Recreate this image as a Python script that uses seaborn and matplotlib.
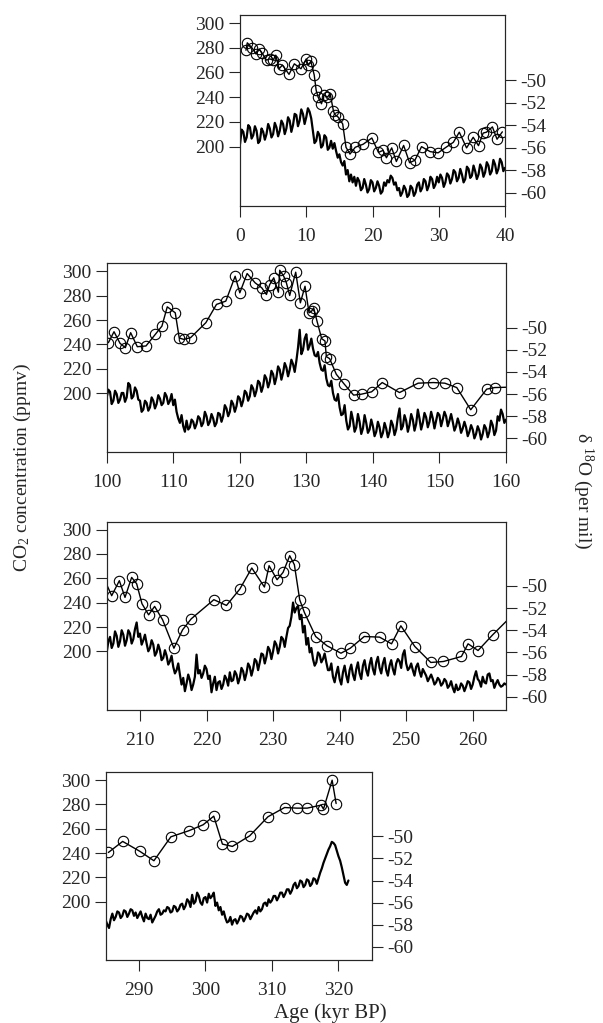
# CO2 and d18O records, four age windows
import numpy as np
import matplotlib
matplotlib.use('Agg')
import matplotlib.pyplot as plt
import seaborn as sns

######################## Data ########################

# CO2 (ppmv), circles
co2_age_1 = [0.9, 1.1, 1.8, 2.4, 2.9, 3.3, 4.0, 4.5, 5.0, 5.4, 5.9, 6.4, 7.4, 8.2, 9.2, 10.0, 10.3,
             10.7, 11.2, 11.5, 11.8, 12.3, 12.7, 13.2, 13.6, 14.1, 14.3, 14.8, 15.5, 16.0, 16.6,
             17.4, 18.6, 19.9, 20.9, 21.6, 22.1, 22.9, 23.6, 24.7, 25.6, 26.4, 27.4, 28.7, 29.9,
             31.1, 32.2, 33.1, 34.2, 35.2, 36.0, 36.7, 37.2, 38.1, 38.8, 39.6]
co2_1 = [278, 284, 280, 275, 279, 276, 270, 271, 270, 274, 263, 266, 258.5, 267, 263, 271, 266,
         269, 258, 245.5, 240, 234.7, 242, 240, 243, 229, 226, 224, 218.4, 199.5, 194,
         199.5, 202, 207, 195.4, 197, 191, 199, 188, 201, 187, 189, 200, 196, 195,
         199.5, 203.5, 211.7, 199, 207.6, 200.8, 211, 211.7, 216, 206, 212]

co2_age_2 = [100.25, 101.1, 102.0, 102.8, 103.6, 104.6, 105.9, 107.3, 108.3, 109.1, 110.3, 110.9,
             111.6, 112.6, 114.9, 116.5, 117.9, 119.3, 120.0, 121.1, 122.3, 123.3, 124.0, 124.5,
             125.1, 125.8, 126.0, 126.6, 127.0, 127.5, 128.4, 129.1, 129.8, 130.4, 130.8, 131.1,
             131.6, 132.3, 132.8, 133.0, 133.5, 134.5, 135.7, 137.1, 138.3, 139.8, 141.4, 144.0,
             146.8, 149.1, 150.8, 152.6, 154.7, 157.1, 158.3, 161.0]
co2_2 = [241.4, 250.4, 240.9, 237.3, 249.6, 238.1, 238.7, 248.2, 255, 270.8, 265.9, 245.2,
         244.1, 245.5, 257.8, 272.8, 275.5, 295.9, 282.3, 298.1, 290.5, 286.4, 280.9, 289.1,
         294.6, 282.8, 300.8, 295.9, 290.5, 280.1, 299.2, 274.1, 287.7, 265.9, 267.3, 270.0,
         259.1, 244.7, 242.8, 230.0, 228.3, 215.5, 207.4, 198.4, 199.2, 201.1, 208.7, 200.5,
         208.2, 208.7, 208.2, 204.6, 186.4, 203.3, 204.6, 205.0]

co2_age_3 = [204.0, 205.75, 206.9, 207.75, 208.75, 209.5, 210.3, 211.3, 212.2, 213.4, 215.1, 216.4,
             217.7, 221.1, 223.0, 225.0, 226.8, 228.7, 229.4, 230.6, 231.5, 232.5, 233.2, 234.0,
             234.7, 236.4, 238.1, 240.2, 241.6, 243.7, 246.0, 247.8, 249.2, 251.3, 253.7, 255.6,
             258.3, 259.3, 260.8, 263.0, 266.0]
co2_3 = [267, 245.8, 258.1, 244.4, 260.8, 255.6, 239.2, 230.1, 237, 226, 202.7, 217.8,
         226.8, 242.5, 237.8, 251.2, 268.5, 252.9, 270.4, 258.9, 264.9, 278.6, 271.2, 242.5,
         232.1, 212.3, 204.7, 198.6, 202.7, 212.3, 211.8, 206.3, 221.1, 204.1, 191.0, 191.8,
         195.9, 206.3, 200.8, 213.7, 230]

co2_age_4 = [285.4, 287.55, 290.15, 292.25, 294.8, 297.5, 299.65, 301.25, 302.55, 304.05, 306.65,
             309.4, 311.9, 313.75, 315.3, 317.4, 317.75, 319.05, 319.65]
co2_4 = [240.5, 249.6, 241.4, 233.7, 253.4, 258.4, 263.3, 270.4, 247.4, 245.5, 254.2,
         269.9, 277.5, 277.0, 277.0, 279.5, 276.2, 300, 280.8]

# d18O (per mil), read every 0.25 kyr from the start age
d18o_step = 0.25

d18o_start_1 = 0.0
d18o_1 = [-55.7, -54.4, -54.6, -55.5, -55.1, -54.0, -54.2, -55.2, -54.9, -54.1,
          -54.5, -55.6, -55.4, -54.3, -54.6, -55.3, -54.8, -53.9, -54.3, -55.1,
          -54.8, -53.8, -54.2, -55.0, -54.5, -53.6, -53.9, -54.8, -54.3, -53.3,
          -53.6, -54.6, -54.0, -53.0, -53.1, -54.1, -53.6, -52.6, -53.0, -53.9,
          -53.3, -52.5, -52.8, -53.4, -54.5, -55.6, -55.4, -54.6, -54.9, -56.0,
          -55.8, -54.9, -55.1, -56.2, -56.0, -55.4, -56.1, -55.6, -56.3, -56.9,
          -56.6, -57.3, -57.6, -57.2, -58.4, -58.0, -59.0, -58.4, -59.1, -58.6,
          -59.4, -58.7, -59.0, -59.8, -59.6, -58.8, -59.3, -60.0, -59.7, -58.9,
          -59.1, -59.9, -59.6, -59.0, -59.4, -60.1, -59.9, -59.1, -59.4, -58.9,
          -59.1, -58.5, -58.7, -59.3, -59.1, -59.8, -59.6, -60.3, -60.0, -59.4,
          -59.7, -60.4, -60.2, -59.4, -59.6, -60.3, -60.0, -59.3, -59.1, -59.9,
          -59.6, -58.8, -59.0, -59.8, -59.4, -58.6, -58.8, -59.6, -59.3, -58.6,
          -59.1, -58.4, -58.7, -59.5, -59.1, -58.3, -58.5, -59.2, -58.8, -58.0,
          -58.2, -59.0, -58.7, -57.9, -58.4, -59.1, -58.8, -57.7, -57.9, -58.7,
          -58.5, -57.6, -58.1, -58.8, -58.4, -57.5, -57.8, -58.6, -58.2, -57.3,
          -57.6, -58.4, -58.1, -57.1, -57.5, -58.3, -57.9, -57.0, -57.3, -58.1,
          -57.8]

d18o_start_2 = 100.0
d18o_2 = [-56.3, -55.6, -55.8, -56.9, -56.6, -55.7, -56.0, -56.8, -56.5, -55.9,
          -55.9, -56.7, -56.3, -55.0, -55.2, -56.4, -56.2, -55.4, -55.7, -56.5,
          -56.6, -57.6, -57.4, -56.6, -56.8, -57.5, -57.2, -56.3, -56.6, -57.3,
          -56.9, -56.1, -56.4, -57.0, -56.8, -55.9, -56.2, -56.9, -56.6, -56.0,
          -57.0, -56.5, -57.6, -58.2, -58.6, -57.9, -58.9, -59.4, -58.4, -59.2,
          -59.0, -58.3, -58.5, -59.1, -58.7, -58.0, -58.2, -58.9, -58.6, -57.6,
          -58.0, -58.8, -58.5, -57.8, -58.2, -58.9, -58.6, -57.7, -57.8, -58.5,
          -58.0, -57.0, -57.3, -58.0, -57.6, -56.6, -56.9, -57.6, -57.1, -56.2,
          -56.4, -57.1, -56.6, -55.7, -55.9, -56.6, -56.2, -55.2, -55.5, -56.2,
          -55.7, -54.8, -55.0, -55.8, -55.3, -54.3, -54.6, -55.4, -54.9, -53.9,
          -54.2, -55.1, -54.5, -53.5, -53.8, -54.7, -54.1, -53.2, -53.6, -54.4,
          -53.8, -52.9, -53.3, -54.0, -53.0, -51.8, -50.2, -52.4, -52.0, -51.0,
          -50.6, -52.0, -51.6, -51.0, -51.9, -52.5, -52.6, -52.2, -53.2, -53.8,
          -53.9, -53.4, -54.6, -55.2, -55.3, -54.8, -55.9, -56.5, -56.6, -56.0,
          -57.2, -57.9, -57.8, -57.0, -58.4, -59.2, -58.9, -57.6, -58.3, -59.4,
          -59.0, -57.8, -58.5, -59.6, -59.1, -57.9, -58.6, -59.5, -59.2, -58.3,
          -58.9, -59.8, -59.4, -58.5, -59.0, -59.9, -59.5, -58.6, -59.1, -59.9,
          -59.4, -58.4, -58.8, -59.7, -59.2, -58.1, -57.3, -59.2, -58.9, -57.9,
          -58.4, -59.4, -58.8, -57.8, -58.3, -59.3, -58.7, -57.4, -58.2, -59.2,
          -58.6, -57.7, -58.1, -59.0, -58.5, -57.6, -58.2, -59.1, -58.4, -57.7,
          -57.9, -58.9, -58.3, -57.6, -58.0, -58.9, -58.4, -57.8, -58.5, -59.3,
          -58.9, -58.2, -58.7, -59.5, -59.1, -58.5, -59.0, -59.8, -59.4, -58.8,
          -59.2, -60.0, -59.6, -58.9, -59.3, -60.1, -59.6, -58.8, -59.1, -59.9,
          -59.4, -58.4, -58.8, -59.7, -59.3, -58.0, -58.4, -57.4, -57.8, -58.6,
          -58.3]

d18o_start_3 = 205.0
d18o_3 = [-56.0, -55.0, -54.6, -55.6, -55.2, -54.1, -54.5, -55.5, -55.0, -54.0,
          -54.4, -55.4, -54.9, -54.0, -54.3, -55.2, -54.8, -53.9, -53.3, -54.6,
          -54.3, -55.3, -54.9, -54.4, -55.2, -55.9, -55.6, -54.9, -55.3, -56.3,
          -56.0, -55.3, -55.8, -56.7, -56.5, -55.8, -56.3, -57.1, -56.8, -56.3,
          -57.3, -57.9, -57.6, -57.0, -58.0, -58.9, -58.3, -59.5, -58.8, -58.0,
          -58.5, -59.4, -58.9, -58.2, -56.2, -57.9, -57.6, -58.3, -57.9, -57.2,
          -57.5, -58.4, -58.1, -59.6, -58.8, -58.2, -59.4, -58.7, -58.6, -59.3,
          -58.9, -58.1, -58.4, -59.0, -57.8, -58.6, -58.5, -57.7, -58.0, -58.8,
          -58.3, -57.4, -57.7, -58.5, -57.9, -57.0, -57.3, -58.1, -57.5, -56.6,
          -56.8, -57.6, -56.9, -56.1, -56.2, -57.0, -56.4, -55.5, -55.8, -56.6,
          -55.9, -55.0, -55.3, -56.1, -55.5, -54.6, -54.8, -55.5, -54.6, -53.8,
          -53.6, -52.8, -51.5, -52.4, -52.0, -51.8, -53.0, -52.6, -54.2, -53.6,
          -55.3, -54.7, -56.0, -55.6, -56.6, -57.2, -56.9, -56.0, -56.2, -56.9,
          -56.6, -56.1, -56.9, -57.6, -57.6, -57.0, -58.2, -58.7, -57.9, -57.3,
          -58.4, -58.9, -57.8, -57.2, -58.1, -58.7, -57.6, -57.1, -58.0, -58.5,
          -57.5, -56.9, -57.9, -58.4, -57.2, -56.7, -57.6, -58.1, -57.1, -56.5,
          -57.5, -58.0, -56.9, -56.4, -57.4, -57.9, -57.0, -56.5, -57.6, -58.1,
          -57.2, -56.7, -57.5, -58.0, -57.0, -56.6, -56.8, -57.4, -56.2, -55.8,
          -57.0, -57.6, -57.4, -57.0, -57.6, -58.1, -57.3, -57.0, -57.7, -58.2,
          -57.5, -57.8, -58.1, -58.6, -58.3, -58.0, -58.4, -58.9, -58.7, -58.3,
          -58.5, -59.0, -58.8, -58.4, -58.6, -59.2, -59.0, -58.6, -59.2, -59.6,
          -58.9, -59.4, -59.3, -58.8, -59.0, -59.5, -59.1, -58.6, -58.7, -59.3,
          -58.9, -58.2, -57.7, -58.4, -58.6, -59.1, -58.2, -58.7, -58.8, -58.0,
          -57.9, -58.6, -58.5, -59.2, -58.8, -58.5, -58.9, -59.1, -59.0, -58.8,
          -58.9]

d18o_start_4 = 285.0
d18o_4 = [-57.6, -58.0, -58.3, -57.5, -57.0, -57.6, -57.3, -56.8, -56.9, -57.4,
          -57.2, -56.7, -56.8, -57.3, -57.0, -56.6, -56.7, -57.2, -56.9, -57.4,
          -57.1, -56.8, -57.3, -57.7, -57.0, -57.4, -57.5, -57.1, -57.8, -57.5,
          -57.2, -56.8, -56.6, -57.1, -57.0, -56.7, -56.8, -56.4, -56.5, -56.9,
          -56.8, -56.3, -56.4, -56.8, -56.6, -56.2, -56.1, -56.6, -56.3, -55.7,
          -55.9, -56.4, -55.3, -56.1, -55.9, -55.1, -55.4, -56.0, -56.2, -55.6,
          -55.5, -56.0, -55.2, -55.6, -55.4, -55.1, -56.3, -56.0, -56.7, -56.4,
          -57.1, -56.8, -57.4, -57.8, -57.7, -57.3, -58.0, -57.6, -57.5, -57.9,
          -57.6, -57.2, -57.3, -57.7, -57.4, -57.0, -57.1, -57.5, -57.2, -56.9,
          -56.7, -57.0, -56.4, -56.8, -56.6, -56.1, -56.0, -56.3, -55.7, -56.0,
          -55.8, -55.4, -55.4, -55.8, -55.5, -55.1, -55.1, -55.5, -55.2, -54.8,
          -54.8, -55.2, -54.9, -54.4, -54.2, -54.7, -54.5, -54.0, -54.1, -54.6,
          -54.4, -53.9, -54.0, -54.5, -54.3, -53.8, -53.9, -54.3, -53.8, -53.3,
          -52.9, -52.4, -52.0, -51.6, -51.2, -50.9, -50.5, -50.6, -50.8, -51.3,
          -51.8, -52.2, -52.8, -53.5, -54.2, -54.4, -54.0]

x_limits = [(0, 40), (100, 160), (205, 265), (285, 325)]
x_ticks = [[0, 10, 20, 30, 40], [100, 110, 120, 130, 140, 150, 160],
           [210, 220, 230, 240, 250, 260], [290, 300, 310, 320]]
co2_ticks = [200, 220, 240, 260, 280, 300]
d18o_ticks = [-50, -52, -54, -56, -58, -60]

######################## Style ########################

sns.set_style('ticks')
plt.rcParams['font.family'] = ['Liberation Serif', 'DejaVu Serif']
plt.rcParams['mathtext.fontset'] = 'custom'
plt.rcParams['mathtext.rm'] = 'Liberation Serif'
plt.rcParams['mathtext.it'] = 'Liberation Serif:italic'
plt.rcParams['axes.unicode_minus'] = False
plt.rcParams['axes.linewidth'] = 0.8

W, H = 603, 1023
fig = plt.figure(figsize=(W / 100, H / 100), dpi=100)

# axes boxes in pixels: left, top, width, height
boxes = [(240, 15, 265, 191), (106.7, 263.3, 399.3, 188.4),
         (106.7, 521.7, 399.3, 188.3), (105.7, 772.3, 266, 187.7)]

co2_ages = [co2_age_1, co2_age_2, co2_age_3, co2_age_4]
co2_vals = [co2_1, co2_2, co2_3, co2_4]
d18o_starts = [d18o_start_1, d18o_start_2, d18o_start_3, d18o_start_4]
d18o_vals = [d18o_1, d18o_2, d18o_3, d18o_4]

for i in range(4):
    l, t, w, h = boxes[i]
    ax = fig.add_axes([l / W, 1 - (t + h) / H, w / W, h / H])
    ax2 = ax.twinx()

    d_age = d18o_starts[i] + d18o_step * np.arange(len(d18o_vals[i]))
    sns.lineplot(x=d_age, y=d18o_vals[i], ax=ax2, color='black', linewidth=1.6,
                 estimator=None, sort=False)
    sns.lineplot(x=co2_ages[i], y=co2_vals[i], ax=ax, color='black', linewidth=1.0,
                 marker='o', markersize=7.5, markerfacecolor='none',
                 markeredgecolor='black', markeredgewidth=0.8,
                 estimator=None, sort=False)

    ax.set_xlim(*x_limits[i])
    ax.set_xticks(x_ticks[i])
    ax.set_ylim(152, 306.5)
    ax.set_yticks(co2_ticks)
    ax2.set_ylim(-61.2, -44.2)
    ax2.set_yticks(d18o_ticks)
    ax.set_xlabel('')
    ax.set_ylabel('')
    ax2.set_ylabel('')

    ax.tick_params(axis='x', direction='out', length=8, width=0.8, labelsize=14, pad=8)
    ax.tick_params(axis='y', direction='out', length=8, width=0.8, labelsize=14, pad=3)
    ax2.tick_params(axis='y', direction='out', length=8, width=0.8, labelsize=14, pad=3)
    for sp in ax.spines.values():
        sp.set_linewidth(0.8)
    for sp in ax2.spines.values():
        sp.set_linewidth(0.8)

fig.text(22 / W, 1 - 467 / H, 'CO$_2$ concentration (ppmv)', rotation=90,
         ha='center', va='center', fontsize=14)
fig.text(583 / W, 1 - 491 / H, 'δ $^{18}$O (per mil)', rotation=270,
         ha='center', va='center', fontsize=14)
fig.text(330 / W, 1 - 1013 / H, 'Age (kyr BP)', ha='center', va='center', fontsize=15)

fig.savefig('out.png', dpi=100)
